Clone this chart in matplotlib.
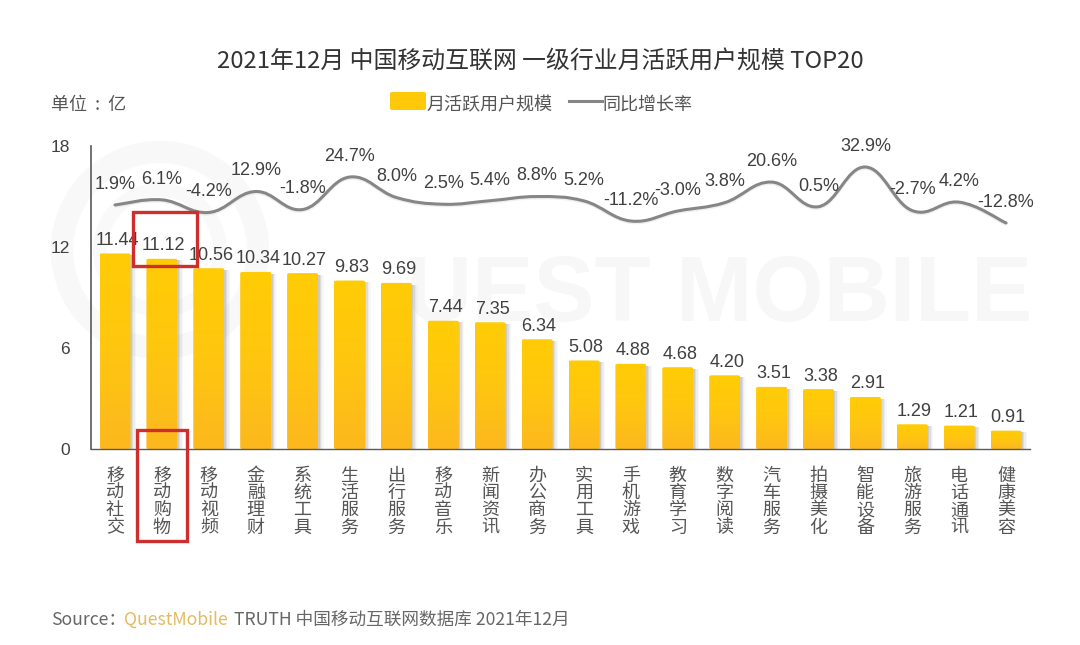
import matplotlib
matplotlib.use('Agg')
import matplotlib.pyplot as plt
import numpy as np
from matplotlib.colors import LinearSegmentedColormap
from matplotlib.lines import Line2D
from matplotlib.patches import Circle, FancyBboxPatch, PathPatch, Rectangle
from matplotlib.path import Path
from matplotlib.transforms import ScaledTranslation

plt.rcParams['font.family'] = ['Liberation Sans', 'Noto Sans CJK SC', 'DejaVu Sans']

# Data
categories = ['移动社交', '移动购物', '移动视频', '金融理财', '系统工具', '生活服务', '出行服务',
              '移动音乐', '新闻资讯', '办公商务', '实用工具', '手机游戏', '教育学习', '数字阅读',
              '汽车服务', '拍摄美化', '智能设备', '旅游服务', '电话通讯', '健康美容']
mau = [11.44, 11.12, 10.56, 10.34, 10.27, 9.83, 9.69, 7.44, 7.35, 6.34,
       5.08, 4.88, 4.68, 4.20, 3.51, 3.38, 2.91, 1.29, 1.21, 0.91]
growth = [1.9, 6.1, -4.2, 12.9, -1.8, 24.7, 8.0, 2.5, 5.4, 8.8,
          5.2, -11.2, -3.0, 3.8, 20.6, 0.5, 32.9, -2.7, 4.2, -12.8]
y_ticks = [0, 6, 12, 18]

W, H = 1080, 645
CJK = ['Noto Sans CJK SC', 'DejaVu Sans']
TEXT = '#404040'
SOFT = '#555555'


def fx(px):
    return px / W


def fy(py):
    return 1 - py / H


# Smooth line as bezier segments through the values (same look as office "smooth line")
def smooth_path(x, y, k=0.2):
    x = np.asarray(x, dtype=float)
    y = np.asarray(y, dtype=float)
    verts = [(x[0], y[0])]
    codes = [Path.MOVETO]
    for i in range(len(x) - 1):
        p0 = max(i - 1, 0)
        p3 = min(i + 2, len(x) - 1)
        verts.append((x[i] + (x[i + 1] - x[p0]) * k, y[i] + (y[i + 1] - y[p0]) * k))
        verts.append((x[i + 1] - (x[p3] - x[i]) * k, y[i + 1] - (y[p3] - y[i]) * k))
        verts.append((x[i + 1], y[i + 1]))
        codes += [Path.CURVE4] * 3
    return Path(verts, codes)


fig = plt.figure(figsize=(W / 100, H / 100), dpi=100, facecolor='white')

# Watermark behind everything
bg = fig.add_axes([0, 0, 1, 1], zorder=0)
bg.set_xlim(0, W)
bg.set_ylim(H, 0)
bg.axis('off')
bg.add_patch(Circle((160, 250), 98, fill=False, ec='#f8f8f8', lw=16))
bg.add_patch(Circle((160, 250), 60, fill=False, ec='#f9f9f9', lw=10))
bg.text(1032, 297, 'UEST MOBILE', fontsize=66, fontweight='bold', color='#f7f7f7', va='center', ha='right')

# Main axes, the bars start a little under the zero of the scale like in the source chart
left, right, top, bottom = 91, 1030, 143, 449
base = -0.18
ax = fig.add_axes([fx(left), fy(bottom), fx(right - left), (bottom - top) / H], zorder=2)
ax.patch.set_alpha(0)
x = np.arange(len(categories))
step = 46.9
x0 = (115 - left) / step
bar_w = 31 / step

ramp = LinearSegmentedColormap.from_list('bar', ['#ffcc05', '#ffc610', '#fcb81e'])
grad = np.linspace(0, 1, 128).reshape(-1, 1)

for xi, v in zip(x, mau):
    # soft shadow on the right of each bar
    for off, a in [(0.03, 0.18), (0.06, 0.14), (0.09, 0.09), (0.12, 0.05)]:
        ax.add_patch(Rectangle((xi - bar_w / 2 + off, base), bar_w, v - base - 0.1, fc='#808080', ec='none',
                               alpha=a, zorder=1))
    box = FancyBboxPatch((xi - bar_w / 2, base), bar_w, v - base, boxstyle='round,pad=0,rounding_size=0.06',
                         mutation_aspect=1.2, fc='none', ec='none', zorder=2)
    ax.add_patch(box)
    im = ax.imshow(grad, extent=(xi - bar_w / 2, xi + bar_w / 2, base, v), cmap=ramp, aspect='auto',
                   origin='upper', zorder=2)
    im.set_clip_path(box)
    ax.annotate(f'{v:.2f}', (xi, v), xytext=(1.4, 9.4), textcoords='offset points', ha='center', va='center',
                fontsize=13, color=TEXT, zorder=6)

ax.set_xlim(-x0, (right - left) / step - x0)
ax.set_ylim(base, 18)
ax.set_yticks(y_ticks)
ax.set_yticklabels([str(t) for t in y_ticks], fontsize=12.5, color=TEXT)
ax.tick_params(axis='y', length=0, pad=15)
ax.set_xticks(x)
ax.set_xticklabels(['\n'.join(c) for c in categories], family=CJK, fontsize=13, color=SOFT, linespacing=0.94)
ax.tick_params(axis='x', length=0, pad=13)
down = ScaledTranslation(0, -3 / 100, fig.dpi_scale_trans)
for lb in ax.get_yticklabels():
    lb.set_transform(lb.get_transform() + down)
for s in ['top', 'right']:
    ax.spines[s].set_visible(False)
ax.spines['left'].set_color('#595959')
ax.spines['left'].set_linewidth(1.2)
ax.spines['left'].set_bounds(base, 18 + base)
ax.spines['bottom'].set_color('#595959')
ax.spines['bottom'].set_linewidth(1.0)
ax.spines['bottom'].set_bounds(-x0, len(x) - 0.5)

# Growth line on a hidden second scale
ax2 = ax.twinx()
ax2.set_ylim(-197.3, 52.5)
ax2.axis('off')
ax2.add_patch(PathPatch(smooth_path(x, np.array(growth) - 1.2), fc='none', ec='#d8d8d8', lw=2.2, alpha=0.4, zorder=3))
ax2.add_patch(PathPatch(smooth_path(x, growth), fc='none', ec='#868686', lw=2.2, capstyle='round', zorder=4))
for xi, g in zip(x, growth):
    ax2.annotate(f'{g:.1f}%', (xi, g), xytext=(0, 14.9), textcoords='offset points', ha='center', va='center',
                 fontsize=13, color=TEXT, zorder=6)

# Red highlight boxes
ov = fig.add_axes([0, 0, 1, 1], zorder=5)
ov.set_xlim(0, W)
ov.set_ylim(H, 0)
ov.axis('off')
ov.add_patch(Rectangle((133, 212), 64, 54, fill=False, ec='#cf2e2e', lw=2.4))
ov.add_patch(Rectangle((137, 430), 50, 111, fill=False, ec='#cf2e2e', lw=2.4))

# Titles and legend
fig.text(fx(540), fy(62), '2021年12月 中国移动互联网 一级行业月活跃用户规模 TOP20', ha='center', va='center',
         family=CJK, fontsize=17.2, color='#333333')
fig.text(fx(51), fy(105), '单位  :  亿', ha='left', va='center', family=CJK, fontsize=13, color=SOFT)
ov.add_patch(FancyBboxPatch((390, 92), 36, 18, boxstyle='round,pad=0,rounding_size=2', fc='#ffc90a', ec='none'))
fig.text(fx(426), fy(105), '月活跃用户规模', ha='left', va='center', family=CJK, fontsize=13, color=SOFT)
ov.add_line(Line2D([569, 602], [101, 101], color='#868686', lw=2.2))
fig.text(fx(602), fy(105), '同比增长率', ha='left', va='center', family=CJK, fontsize=13, color=SOFT)

# Source line
fig.text(fx(51), fy(620), 'Source：', ha='left', va='center', family=['Noto Sans CJK SC'], fontsize=12.7, color='#666666')
fig.text(fx(124), fy(620), 'QuestMobile', ha='left', va='center', family=['Noto Sans CJK SC'], fontsize=12.7, color='#e0bc62')
fig.text(fx(234), fy(620), 'TRUTH 中国移动互联网数据库 2021年12月', ha='left', va='center', family=['Noto Sans CJK SC'],
         fontsize=12.7, color='#666666')

fig.savefig('out.png', dpi=100)
